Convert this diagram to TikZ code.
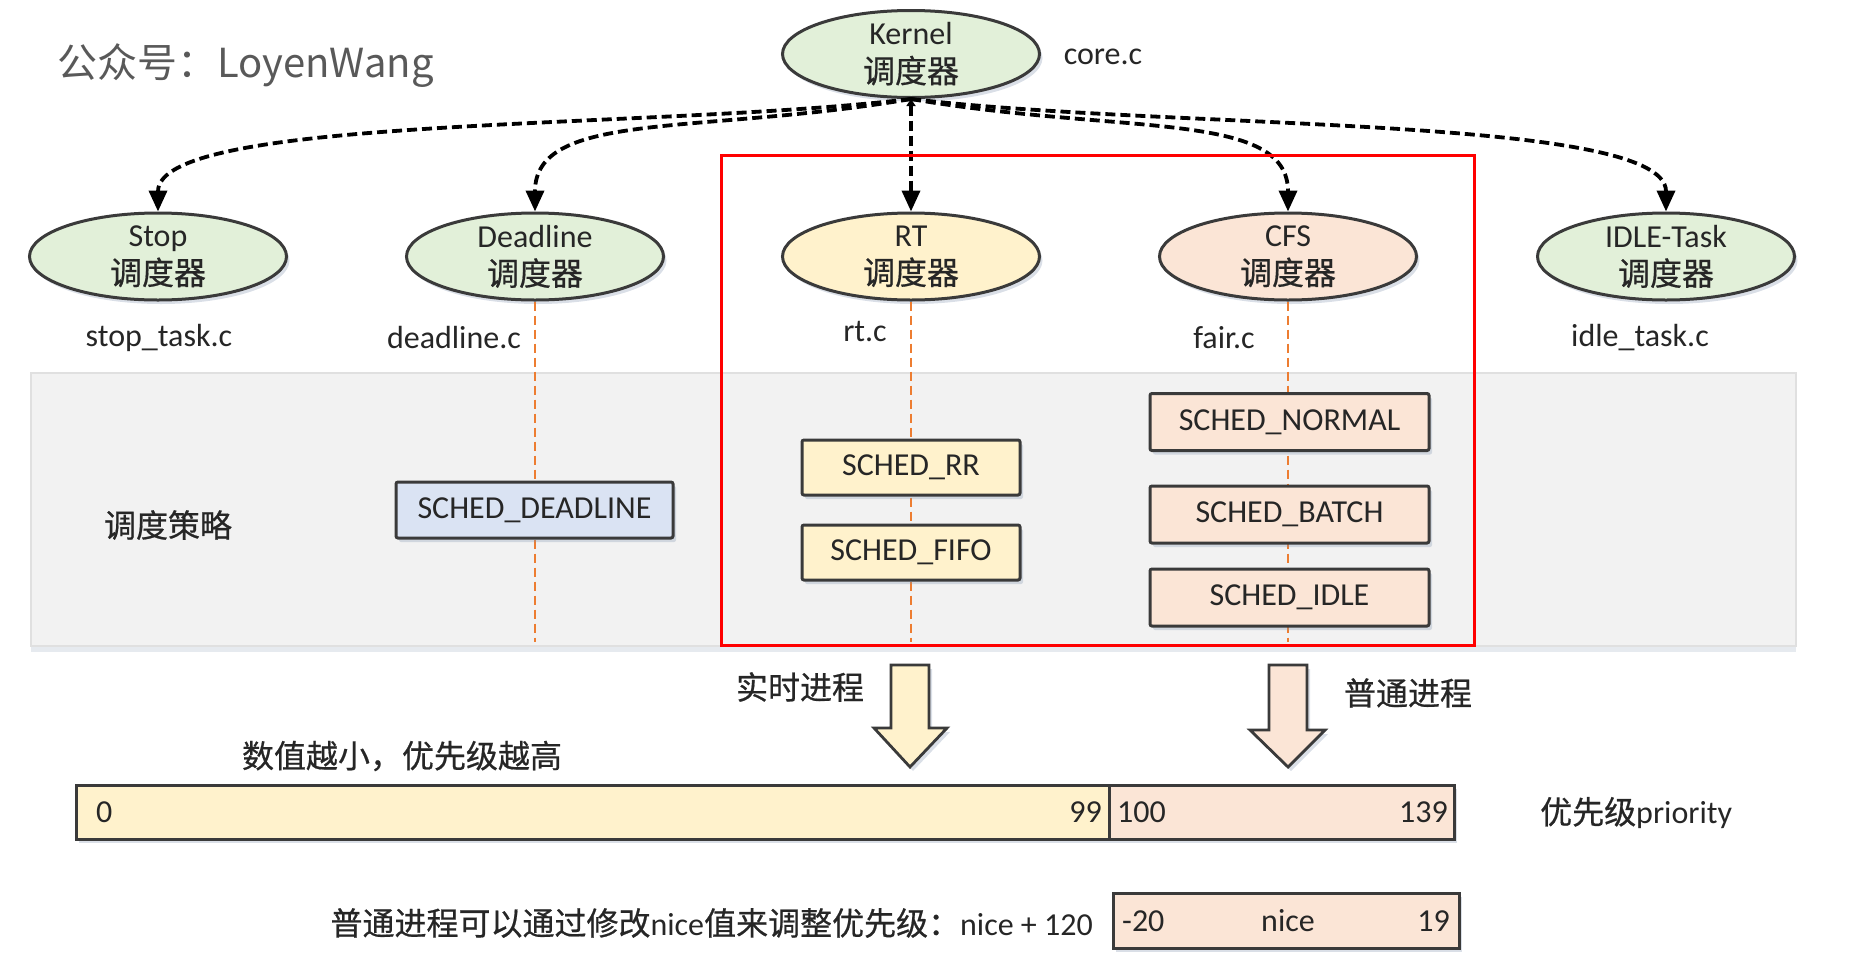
\documentclass[tikz,border=0pt]{standalone}
\usepackage{fontspec}
\setmainfont{Carlito}
\newfontfamily\cjk[FakeBold=0.6]{Noto Sans CJK SC}
\newfontfamily\cjktitle{Noto Sans CJK SC}
\usetikzlibrary{arrows.meta,shadows,shapes.geometric}
\definecolor{cgreen}{HTML}{E2F0D9}
\definecolor{cyellow}{HTML}{FFF2CC}
\definecolor{cpeach}{HTML}{FBE5D6}
\definecolor{cblue}{HTML}{DAE3F3}
\definecolor{cpanel}{HTML}{F2F2F2}
\definecolor{cpanelline}{HTML}{E0E0E0}
\definecolor{cline}{HTML}{3A3A3A}
\definecolor{corange}{HTML}{ED7D31}
\definecolor{ctext}{HTML}{262626}
\definecolor{ctitle}{HTML}{595959}
\definecolor{cshadow}{HTML}{8496B0}
\begin{document}
\begin{tikzpicture}[x=1pt,y=-1pt,
  every node/.style={font=\fontsize{32}{38}\selectfont, text=ctext, inner sep=0pt},
  softshadow/.style={drop shadow={shadow xshift=3pt, shadow yshift=-4pt, fill=cshadow, opacity=0.3}},
  ell/.style={ellipse, draw=cline, line width=3pt, minimum width=257pt, minimum height=87pt, softshadow},
  etext/.style={align=center},
  sbox/.style={draw=cline, line width=3pt, rounded corners=2pt, minimum height=55pt, softshadow},
  bar/.style={draw=cline, line width=3pt, minimum height=54pt, softshadow},
  karrow/.style={line width=3.8pt, dash pattern=on 10pt off 5pt, -{Triangle[length=21pt,width=18pt]}},
  odash/.style={draw=corange, line width=2.2pt, dash pattern=on 9pt off 5pt},
  barrow/.style={draw=cline, line width=2.8pt, line join=miter, softshadow},
  panel/.style={fill=cpanel, draw=cpanelline, line width=1.5pt, drop shadow={shadow xshift=0pt, shadow yshift=-6pt, fill=cshadow, opacity=0.2}}
]
\useasboundingbox (0,0) rectangle (1874,964);

% title
\node[anchor=west, font=\cjktitle\fontsize{40}{48}\selectfont, text=ctitle] (title) at (57,66) {公众号：LoyenWang};

% gray panel
\node[panel, minimum width=1765pt, minimum height=273pt] (panel) at (913.5,509.5) {};
\node (policy) at (168,525) {\cjk 调度策略};

% ellipses
\node[ell, fill=cgreen] (kernel) at (911,54) {};
\node[etext] (kernel-t) at (kernel.center) {Kernel\\{\cjk 调度器}};
\node (core) at (1103,57) {core.c};

\node[ell, fill=cgreen] (stop) at (158,256.5) {};
\node[etext] (stop-t) at (stop.center) {Stop\\{\cjk 调度器}};
\node[ell, fill=cgreen] (deadline) at (535,256.5) {};
\node[etext] (deadline-t) at (deadline.center) {Deadline\\{\cjk 调度器}};
\node[ell, fill=cyellow] (rt) at (911,256.5) {};
\node[etext] (rt-t) at (rt.center) {RT\\{\cjk 调度器}};
\node[ell, fill=cpeach] (cfs) at (1288,256.5) {};
\node[etext] (cfs-t) at (cfs.center) {CFS\\{\cjk 调度器}};
\node[ell, fill=cgreen] (idle) at (1666,256.5) {};
\node[etext] (idle-t) at (idle.center) {IDLE-Task\\{\cjk 调度器}};

% file labels
\node (f-stop) at (159,338) {stop\_task.c};
\node (f-dl) at (454,338) {deadline.c};
\node (f-rt) at (865,332) {rt.c};
\node (f-cfs) at (1224,338) {fair.c};
\node (f-idle) at (1640,338) {idle\_task.c};

% kernel connectors
\draw[karrow] (kernel.south) .. controls (650,130) and (158,115) .. (stop.north);
\draw[karrow] (kernel.south) .. controls (700,135) and (535,110) .. (deadline.north);
\draw[line width=3.8pt, dash pattern=on 10pt off 5pt, {Triangle[length=7pt,width=9pt]}-{Triangle[length=21pt,width=18pt]}] (kernel.south) -- (rt.north);
\draw[karrow] (kernel.south) .. controls (1122,135) and (1288,110) .. (cfs.north);
\draw[karrow] (kernel.south) .. controls (1172,130) and (1666,115) .. (idle.north);

% orange dashed lines
\coordinate (dl-b) at (535,642);
\coordinate (rt-b) at (911,642);
\coordinate (cfs-b) at (1288,642);
\draw[odash] (deadline.south) -- (dl-b);
\draw[odash] (rt.south) -- (rt-b);
\draw[odash] (cfs.south) -- (cfs-b);

% policy boxes
\node[sbox, fill=cblue, minimum width=277pt, minimum height=56pt] (s-dl) at (534.5,510) {SCHED\_DEADLINE};
\node[sbox, fill=cyellow, minimum width=218pt] (s-rr) at (911,467.5) {SCHED\_RR};
\node[sbox, fill=cyellow, minimum width=218pt] (s-fifo) at (911,552.5) {SCHED\_FIFO};
\node[sbox, fill=cpeach, minimum width=279pt, minimum height=57pt] (s-normal) at (1289.5,422) {SCHED\_NORMAL};
\node[sbox, fill=cpeach, minimum width=279pt, minimum height=57pt] (s-batch) at (1289.5,514.5) {SCHED\_BATCH};
\node[sbox, fill=cpeach, minimum width=279pt, minimum height=57pt] (s-idle) at (1289.5,597.5) {SCHED\_IDLE};

% red frame
\node[draw=red, line width=3pt, minimum width=753pt, minimum height=490pt] (redbox) at (1097.5,400) {};

% block arrows
\draw[barrow, fill=cyellow] (891,665) -- (929,665) -- (929,728) -- (947,728) -- (910,767) -- (874,728) -- (891,728) -- cycle;
\draw[barrow, fill=cpeach] (1269,665) -- (1307,665) -- (1307,730) -- (1325,730) -- (1288,767) -- (1250,730) -- (1269,730) -- cycle;
\node (rt-lbl) at (800,687) {\cjk 实时进程};
\node (cfs-lbl) at (1408,693) {\cjk 普通进程};
\node (note1) at (402,756) {\cjk 数值越小，优先级越高};

% priority bar
\node[bar, fill=cyellow, minimum width=1033pt] (rtbar) at (592.5,812) {};
\node[bar, fill=cpeach, minimum width=345pt] (cfsbar) at (1281.5,812) {};
\node[anchor=west] (p0) at (96,812) {0};
\node[anchor=east] (p99) at (1102,812) {99};
\node[anchor=west] (p100) at (1117,812) {100};
\node[anchor=east] (p139) at (1448,812) {139};
\node[anchor=west] (prio) at (1540,813) {{\cjk 优先级}priority};

% nice bar
\node[bar, fill=cpeach, minimum width=346pt, minimum height=55pt] (nicebar) at (1286,920.5) {};
\node[anchor=west] (n20) at (1122,921) {-20};
\node (nice) at (1288,921) {nice};
\node[anchor=east] (n19) at (1450,921) {19};
\node[anchor=east] (note2) at (1093,923) {{\cjk 普通进程可以通过修改}nice{\cjk 值来调整优先级：}nice + 120};
\end{tikzpicture}
\end{document}
